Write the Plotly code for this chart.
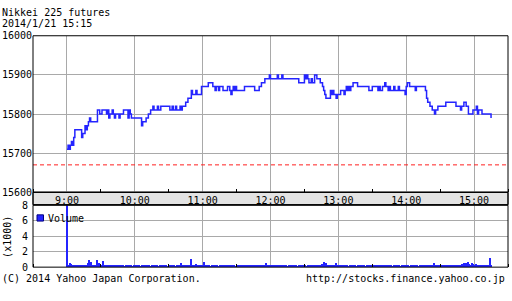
import plotly.graph_objects as go
import pandas as pd

DAY = "2014-01-21 "

# ---- data ----
price_times = [
    "09:00", "09:01", "09:02", "09:03", "09:04", "09:05", "09:06", "09:07", "09:13", "09:14",
    "09:16", "09:17", "09:18", "09:19", "09:20", "09:21", "09:27", "09:29", "09:31", "09:35",
    "09:36", "09:37", "09:38", "09:40", "09:41", "09:42", "09:43", "09:46", "09:47", "09:50",
    "09:54", "09:55", "09:56", "09:57", "10:06", "10:07", "10:10", "10:12", "10:14", "10:16",
    "10:17", "10:20", "10:21", "10:23", "10:31", "10:33", "10:34", "10:36", "10:37", "10:40",
    "10:41", "10:42", "10:45", "10:47", "10:50", "10:51", "10:54", "10:55", "10:59", "11:05",
    "11:09", "11:11", "11:12", "11:14", "11:15", "11:18", "11:22", "11:24", "11:25", "11:26",
    "11:27", "11:28", "11:29", "11:30", "11:37", "11:46", "11:50", "11:52", "11:55", "11:59",
    "12:00", "12:06", "12:07", "12:10", "12:11", "12:25", "12:30", "12:31", "12:32", "12:33",
    "12:34", "12:36", "12:37", "12:39", "12:41", "12:44", "12:46", "12:47", "12:48", "12:49",
    "12:53", "12:54", "12:55", "12:56", "12:58", "12:59", "13:02", "13:05", "13:06", "13:07",
    "13:08", "13:09", "13:10", "13:11", "13:13", "13:17", "13:27", "13:30", "13:35", "13:36",
    "13:37", "13:39", "13:41", "13:42", "13:44", "13:45", "13:46", "13:49", "13:50", "13:53",
    "13:54", "13:59", "14:00", "14:01", "14:03", "14:08", "14:09", "14:17", "14:18", "14:19",
    "14:21", "14:23", "14:25", "14:26", "14:28", "14:35", "14:44", "14:48", "14:49", "14:51",
    "14:53", "14:55", "14:59", "15:02", "15:03", "15:04", "15:07", "15:15",
]
price_values = [
    15710, 15720, 15710, 15720, 15730, 15720, 15740, 15760, 15740, 15750,
    15770, 15760, 15770, 15780, 15790, 15780, 15810, 15800, 15810, 15800,
    15810, 15790, 15800, 15810, 15800, 15790, 15800, 15790, 15800, 15810,
    15790, 15810, 15800, 15790, 15770, 15780, 15790, 15800, 15810, 15820,
    15810, 15820, 15810, 15820, 15810, 15820, 15810, 15820, 15810, 15820,
    15810, 15820, 15830, 15840, 15860, 15850, 15860, 15850, 15870, 15880,
    15870, 15860, 15870, 15860, 15870, 15860, 15870, 15860, 15850, 15860,
    15870, 15860, 15870, 15860, 15870, 15860, 15870, 15880, 15890, 15900,
    15890, 15900, 15890, 15900, 15890, 15880, 15900, 15890, 15900, 15890,
    15880, 15890, 15880, 15900, 15890, 15880, 15870, 15860, 15850, 15840,
    15860, 15850, 15860, 15850, 15840, 15850, 15860, 15850, 15860, 15870,
    15860, 15870, 15860, 15870, 15880, 15870, 15860, 15870, 15860, 15870,
    15860, 15870, 15880, 15870, 15860, 15870, 15860, 15870, 15860, 15870,
    15860, 15850, 15870, 15880, 15870, 15860, 15870, 15860, 15840, 15830,
    15820, 15810, 15800, 15810, 15820, 15830, 15820, 15810, 15820, 15830,
    15820, 15800, 15810, 15820, 15800, 15810, 15800, 15790,
]
prev_close = 15670

volume_start = "09:00"
volume_thousands = [
    8.5, 0.2, 0.3, 0.5, 0.4, 0.3, 0.2, 0.15, 0.2, 0.25, 0.15, 0.2, 0.3, 0.2, 0.15, 0.2, 0.25, 0.2, 0.3, 0.5,
    0.85, 0.6, 0.3, 0.2, 0.25, 0.2, 0.3, 0.95, 0.5, 0.4, 0.3, 0.25, 0.8, 0.3, 0.2, 0.15, 0.2, 0.25, 0.15, 0.2,
    0.2, 0.15, 0.1, 0.2, 0.15, 0.2, 0.1, 0.15, 0.2, 0.25, 0.15, 0.1, 0.2, 0.15, 0.1, 0.15, 0.2, 0.15, 0.1, 0.2,
    0.25, 0.15, 0.1, 0.15, 0.2, 0.1, 0.15, 0.2, 0.15, 0.1, 0.15, 0.2, 0.25, 0.15, 0.1, 0.15, 0.2, 0.1, 0.15, 0.2,
    0.15, 0.1, 0.15, 0.2, 0.1, 0.15, 0.2, 0.25, 0.15, 0.1, 0.2, 0.15, 0.1, 0.15, 0.2, 0.15, 0.1, 0.2, 0.15, 0.3,
    0.2, 0.55, 0.3, 0.2, 0.15, 0.2, 0.25, 0.15, 0.2, 0.3, 1.0, 0.3, 0.2, 0.15, 0.35, 0.2, 0.15, 0.2, 0.25, 0.2,
    0.3, 0.7, 0.25, 0.2, 0.15, 0.2, 0.15, 0.1, 0.2, 0.15, 0.1, 0.15, 0.2, 0.15, 0.1, 0.15, 0.2, 0.1, 0.15, 0.2,
    0.15, 0.1, 0.15, 0.2, 0.1, 0.15, 0.2, 0.1, 0.15, 0.1, 0.15, 0.2, 0.1, 0.15, 0.2, 0.1, 0.15, 0.2, 0.15, 0.1,
    0.15, 0.1, 0.2, 0.15, 0.1, 0.15, 0.2, 0.15, 0.1, 0.15, 0.2, 0.1, 0.15, 0.2, 0.25, 0.3, 0.5, 0.2, 0.15, 0.2,
    0.15, 0.2, 0.1, 0.15, 0.2, 0.1, 0.15, 0.1, 0.15, 0.2, 0.1, 0.15, 0.1, 0.15, 0.2, 0.1, 0.15, 0.1, 0.15, 0.2,
    0.15, 0.1, 0.15, 0.2, 0.1, 0.15, 0.2, 0.1, 0.15, 0.1, 0.15, 0.2, 0.1, 0.15, 0.2, 0.15, 0.1, 0.15, 0.2, 0.25,
    0.2, 0.15, 0.3, 0.2, 0.25, 0.3, 0.4, 0.65, 0.3, 0.5, 0.25, 0.2, 0.15, 0.2, 0.25, 0.2, 0.3, 0.2, 0.5, 0.25,
    0.2, 0.15, 0.2, 0.25, 0.15, 0.1, 0.15, 0.2, 0.15, 0.1, 0.15, 0.2, 0.1, 0.15, 0.2, 0.15, 0.1, 0.15, 0.2, 0.1,
    0.15, 0.2, 0.1, 0.15, 0.1, 0.15, 0.2, 0.1, 0.15, 0.2, 0.15, 0.1, 0.15, 0.2, 0.1, 0.15, 0.2, 0.15, 0.1, 0.15,
    0.2, 0.1, 0.15, 0.2, 0.15, 0.1, 0.15, 0.2, 0.1, 0.15, 0.2, 0.15, 0.1, 0.15, 0.2, 0.1, 0.15, 0.2, 0.15, 0.25,
    0.2, 0.15, 0.2, 0.1, 0.15, 0.2, 0.15, 0.1, 0.15, 0.2, 0.15, 0.1, 0.15, 0.2, 0.25, 0.15, 0.2, 0.3, 0.25, 0.2,
    0.25, 0.2, 0.3, 0.25, 0.2, 0.45, 0.25, 0.2, 0.3, 0.2, 0.15, 0.2, 0.25, 0.15, 0.2, 0.25, 0.2, 0.15, 0.2, 0.3,
    0.2, 0.25, 0.3, 0.2, 0.15, 0.2, 0.3, 0.25, 0.2, 0.4, 0.3, 0.55, 0.35, 0.45, 0.3, 0.6, 0.4, 0.3, 0.5, 0.35,
    0.3, 0.25, 0.4, 0.2, 0.3, 0.15, 0.2, 0.25, 0.3, 0.2, 0.15, 0.2, 0.25, 0.2, 1.15, 0.2,
]

hour_ticks = ["09:00", "10:00", "11:00", "12:00", "13:00", "14:00", "15:00"]
hour_labels = ["9:00", "10:00", "11:00", "12:00", "13:00", "14:00", "15:00"]
half_ticks = ["08:30", "09:30", "10:30", "11:30", "12:30", "13:30", "14:30", "15:30"]
price_ticks = [15600, 15700, 15800, 15900, 16000]
volume_ticks = [0, 2, 4, 6, 8]

title_line1 = "Nikkei 225 futures"
title_line2 = "2014/1/21 15:15"
footer_left = "(C) 2014 Yahoo Japan Corporation."
footer_right = "http://stocks.finance.yahoo.co.jp"

# ---- figure ----
W, H = 512, 301
FONT = "DejaVu Sans Mono"
BLUE = "#2424ff"
GRID = "#a9a9a9"

def fx(px):
    return px / W

def fy(py):
    return 1 - py / H

X_L, X_R = 33, 508
MAIN_T, MAIN_B = 31, 194
BAND_B = 207
VOL_T, VOL_B = 207.5, 272

price_x = [DAY + t for t in price_times]
vol_x = pd.date_range(DAY + volume_start, periods=len(volume_thousands), freq="min")
x_range = [DAY + "08:30", DAY + "15:30"]

fig = go.Figure()
fig.add_trace(go.Scatter(x=price_x, y=price_values, mode="lines", line=dict(color=BLUE, width=1.5, shape="hv"),
                         xaxis="x", yaxis="y", showlegend=False, name="Nikkei 225 futures"))
fig.add_trace(go.Bar(x=vol_x, y=volume_thousands, marker=dict(color=BLUE, line=dict(width=0)),
                     xaxis="x2", yaxis="y2", showlegend=False, name="Volume"))

tickfont = dict(family=FONT, size=10, color="black")

common_x = dict(range=x_range, type="date", showline=False, zeroline=False,
                showgrid=True, gridcolor=GRID, gridwidth=1,
                tickvals=[DAY + t for t in hour_ticks], ticks="",
                minor=dict(tickvals=[DAY + t for t in half_ticks], ticks="inside", ticklen=3,
                           tickcolor="black", tickwidth=1, showgrid=False),
                mirror="ticks", tickfont=tickfont)

fig.update_layout(
    width=W, height=H, margin=dict(l=0, r=0, t=0, b=0),
    paper_bgcolor="white", plot_bgcolor="white", bargap=0,
    xaxis=dict(domain=[fx(X_L), fx(X_R)], anchor="y", ticktext=hour_labels, showticklabels=True,
               ticklabelstandoff=1, **common_x),
    xaxis2=dict(domain=[fx(X_L), fx(X_R)], anchor="y2", matches="x", showticklabels=False, **common_x),
    yaxis=dict(domain=[fy(MAIN_B), fy(MAIN_T)], anchor="x", range=[15600, 16000], tickvals=price_ticks,
               tickformat="d", ticks="", showgrid=True, gridcolor=GRID, zeroline=False, showline=False,
               tickfont=tickfont, ticklabelstandoff=0),
    yaxis3=dict(overlaying="y", anchor="x", side="right", range=[15600, 16000], tickvals=price_ticks[1:-1],
                ticks="inside", ticklen=3, tickcolor="black", showticklabels=False, showgrid=False,
                zeroline=False, showline=False),
    yaxis2=dict(domain=[fy(VOL_B), fy(VOL_T)], anchor="x2", range=[0, 8], tickvals=volume_ticks,
                tickformat="d", ticks="", showgrid=True, gridcolor=GRID, zeroline=False, showline=False,
                tickfont=tickfont, ticklabelstandoff=4),
    yaxis4=dict(overlaying="y2", anchor="x2", side="right", range=[0, 8], tickvals=volume_ticks[1:-1],
                ticks="inside", ticklen=3, tickcolor="black", showticklabels=False, showgrid=False,
                zeroline=False, showline=False),
)

# previous close reference line
fig.add_shape(type="line", xref="x domain", x0=0, x1=1, yref="y", y0=prev_close, y1=prev_close,
              line=dict(color="#ff2020", width=1, dash="4px,3px"), layer="above")

# band behind time labels and panel frames
fig.add_shape(type="rect", xref="paper", yref="paper", x0=fx(X_L), x1=fx(X_R), y0=fy(BAND_B), y1=fy(MAIN_B),
              fillcolor="#e3e3e3", line=dict(color="black", width=1), layer="below")
for top, bot in [(MAIN_T, MAIN_B), (MAIN_B, BAND_B), (VOL_T, VOL_B)]:
    fig.add_shape(type="rect", xref="paper", yref="paper", x0=fx(X_L), x1=fx(X_R), y0=fy(bot), y1=fy(top),
                  line=dict(color="black", width=1), fillcolor="rgba(0,0,0,0)", layer="above")

# legend swatch for volume
fig.add_shape(type="rect", xref="paper", yref="paper", x0=fx(37), x1=fx(43.5), y0=fy(224), y1=fy(217.5),
              fillcolor=BLUE, line=dict(color="#000080", width=1))

texts = [
    (title_line1, 0, 6.5, "left"),
    (title_line2, 0, 18, "left"),
    ("Volume", 45.5, 221, "left"),
    (footer_left, 0, 284, "left"),
    (footer_right, 507, 284, "right"),
]
for txt, x, y, anchor in texts:
    fig.add_annotation(text=txt, xref="paper", yref="paper", x=fx(x), y=fy(y), xanchor=anchor,
                       yanchor="middle", showarrow=False, font=tickfont)
fig.add_annotation(text="(x1000)", xref="paper", yref="paper", x=fx(7.5), y=fy(241), xanchor="center",
                   yanchor="middle", showarrow=False, font=tickfont, textangle=-90)

fig.write_html("out.html")
